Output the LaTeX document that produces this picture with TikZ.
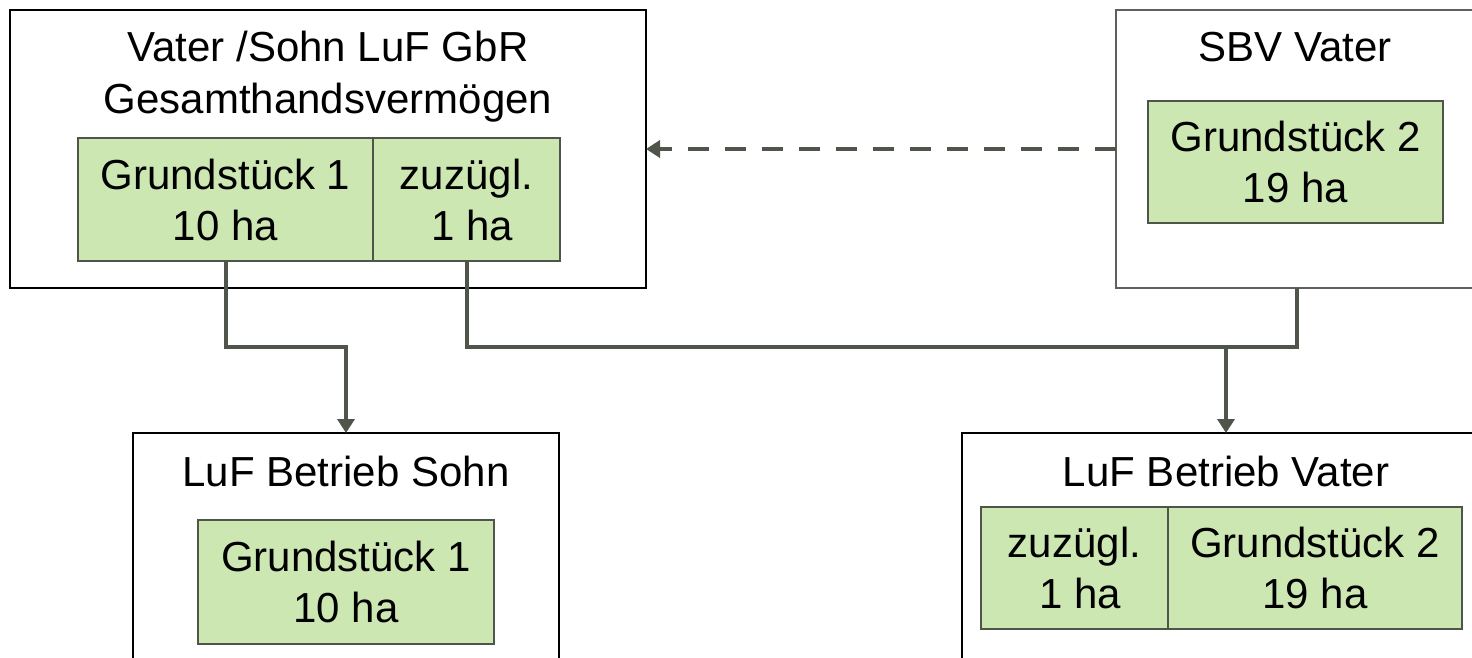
\documentclass[tikz,border=0pt]{standalone}
\usepackage{fontspec}
\setmainfont{Liberation Sans}
\usetikzlibrary{arrows.meta}
\definecolor{cellgreen}{RGB}{205,231,178}
\definecolor{wire}{RGB}{79,85,74}
\definecolor{framegray}{RGB}{95,95,95}
\begin{document}
\begin{tikzpicture}[x=0.5pt,y=-0.5pt,
  every node/.style={inner sep=0pt, outer sep=0pt},
  frame/.style={draw=black, line width=1pt},
  cell/.style={draw=wire, line width=1pt, fill=cellgreen, align=center,
    font=\fontsize{21}{25.5}\selectfont},
  title/.style={font=\fontsize{21}{26}\selectfont, anchor=base},
  wireline/.style={draw=wire, line width=2pt},
  tip/.style={-{Triangle[length=7pt,width=8.5pt]}}]
\useasboundingbox (0,0) rectangle (1472,658);
\clip (0,0) rectangle (1472,658);

% outer frames
\node[frame, minimum width=318pt, minimum height=139pt] (A) at (328,149) {};
\node[frame, draw=framegray, minimum width=181pt, minimum height=139pt] (S) at (1297,149) {};
\node[frame, minimum width=213pt, minimum height=133.5pt] (C) at (346,566.5) {};
\node[frame, minimum width=264pt, minimum height=133.5pt] (D) at (1226,566.5) {};

% frame titles
\node[title] (At1) at (328,62) {Vater /Sohn LuF GbR};
\node[title] (At2) at (328,114) {Gesamthandsvermögen};
\node[title] (St) at (1295,62) {SBV Vater};
\node[title] (Ct) at (346,486) {LuF Betrieb Sohn};
\node[title] (Dt) at (1226,486) {LuF Betrieb Vater};

% land parcels
\node[cell, minimum width=147.5pt, minimum height=61.5pt] (G1) at (225.5,199.5) {Grundstück 1\\10 ha};
\node[cell, minimum width=93.5pt, minimum height=61.5pt] (Z1) at (466.5,199.5) {zuzügl.\\\ 1 ha};
\node[cell, minimum width=147.5pt, minimum height=61pt] (G2) at (1295.5,162) {Grundstück 2\\19 ha};
\node[cell, minimum width=148pt, minimum height=62pt] (G1b) at (346,582) {Grundstück 1\\10 ha};
\node[cell, minimum width=93.5pt, minimum height=61pt] (Z2) at (1074.5,568) {zuzügl.\\\ 1 ha};
\node[cell, minimum width=147pt, minimum height=61pt] (G2b) at (1315,568) {Grundstück 2\\19 ha};

% connectors
\coordinate (busL) at (286,347);
\coordinate (busR) at (846,347);
\draw[wireline, tip] (G1.south) |- (busL) -| (C.north);
\draw[wireline, tip] (Z1.south) |- (busR) -| (D.north);
\draw[wireline] (S.south) |- (D.north |- busR);
\draw[wireline, tip, dash pattern=on 10.5pt off 8pt] (S.west) -- (A.east);
\end{tikzpicture}
\end{document}
